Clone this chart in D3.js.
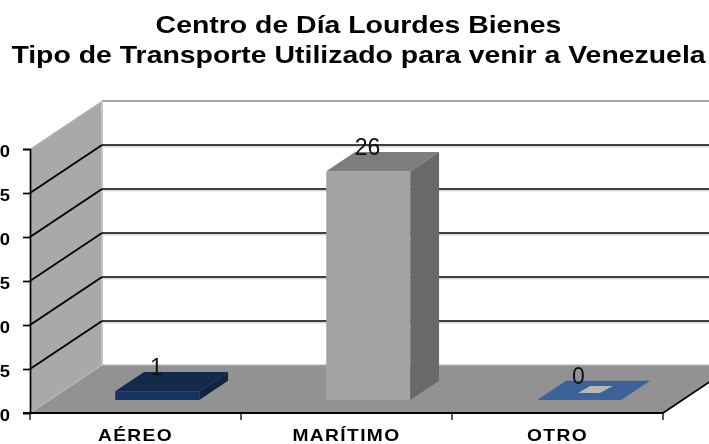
<!DOCTYPE html>
<html><head><meta charset="utf-8">
<script src="https://cdn.jsdelivr.net/npm/d3@7"></script>
<style>html,body{margin:0;padding:0;background:#fff;overflow:hidden}svg{display:block;filter:blur(.45px)}text{font-family:"Liberation Sans",Arial,sans-serif}</style>
</head><body><svg id="c" width="709" height="444"></svg>
<script>
const titleLines=["Centro de Día Lourdes Bienes","Tipo de Transporte Utilizado para venir a Venezuela"];
const categories=["AÉREO","MARÍTIMO","OTRO"];
const values=[1,26,0];
const barFronts=["#16345f","#a3a3a3","#3b6399"];
const barTops=["#132a4c","#7d7d7d","#3b6399"];
const barSides=["#102542","#696969","#3b6399"];
const yTicks=[0,5,10,15,20,25,30];

const svg=d3.select("#c");
const FONT='"Liberation Sans",Arial,sans-serif';
const x=d3.scaleBand().domain(categories).range([30,663]).paddingInner(0).paddingOuter(0);
const y=d3.scaleLinear().domain([0,30]).range([413,149]);
const dx=d3.scaleLinear().domain([0,1]).range([0,72]);
const dy=d3.scaleLinear().domain([0,1]).range([0,-48]);
const P=(px,v,d)=>[px+dx(d),y(v)+dy(d)];
const poly=(pts,fill)=>svg.append("polygon").attr("points",pts.map(p=>p.join(",")).join(" ")).attr("fill",fill);
const seg=(a,b,c,w)=>svg.append("line").attr("x1",a[0]).attr("y1",a[1]).attr("x2",b[0]).attr("y2",b[1]).attr("stroke",c).attr("stroke-width",w);

const x0=x.range()[0],x1=x.range()[1],topV=yTicks[yTicks.length-1];
// walls and floor
poly([P(x0,0,0),P(x0,topV,0),P(x0,topV,1),P(x0,0,1)],"#a9a9a9");
poly([P(x0,0,0),P(x0,0,1),P(x1,0,1),P(x1,0,0)],"#929292");
seg(P(x0,topV,1),P(x1,topV,1),"#a6a6a6",2);
seg(P(x0,topV,1),P(x0,0,1),"#c4c4c4",2);
seg(P(x0,0,1),P(x1,0,1),"#b4b4b4",1);
seg(P(x0,topV,0),P(x0,topV,1),"#c4c4c4",1);
seg(P(x0,0,0),P(x0,0,1),"#c0c0c0",1);
// gridlines
yTicks.slice(1,-1).forEach(t=>{
  seg(P(x0,t,0),P(x0,t,1),"#000",1.7);
  seg([x0+dx(1),y(t)+dy(1)+1.8],[x1+dx(1),y(t)+dy(1)+1.8],"#c8c8c8",1);
  seg(P(x0,t,1),P(x1,t,1),"#000",1.7);
});
// bars
const barW=84,dNear=0.27,dFar=0.67;
categories.forEach((c,i)=>{
  const L=x(c)+x.bandwidth()/2-barW/2+2.3, R=L+barW, v=values[i];
  if(v>0){
    poly([P(L,0,dNear),P(L,v,dNear),P(R,v,dNear),P(R,0,dNear)],barFronts[i]);
    poly([P(L,v,dNear),P(L,v,dFar),P(R,v,dFar),P(R,v,dNear)],barTops[i]);
    poly([P(R,0,dNear),P(R,v,dNear),P(R,v,dFar),P(R,0,dFar)],barSides[i]);
  } else {
    poly([P(L,0,dNear),P(L,0,dFar),P(R,0,dFar),P(R,0,dNear)],barTops[i]);
    const q=(u,d)=>P(L+u*barW,0,d);
    poly([q(.36,.417),q(.377,.5625),q(.65,.5625),q(.62,.417)],"#b8b8b8");
  }
});
// axes
const axY=d3.axisLeft(y).tickValues(yTicks).tickSize(7).tickPadding(13);
const gY=svg.append("g").attr("transform",`translate(${x0},0)`).call(axY);
gY.select(".domain").attr("stroke","#000").attr("stroke-width",1.7);
gY.selectAll("line").attr("stroke","#000").attr("stroke-width",1.7);
gY.selectAll("text").attr("font-size",16).attr("font-weight","bold").attr("fill","#000").attr("font-family",FONT)
  .attr("x",0).attr("y",2).attr("transform","translate(-20,0) scale(1.15,1)");
const axX=d3.axisBottom(x).tickSize(0).tickPadding(16);
const gX=svg.append("g").attr("transform",`translate(0,${y(0)})`).call(axX);
gX.select(".domain").attr("stroke","#000").attr("stroke-width",2).attr("d",`M${x0-7},0H${x1}`);
gX.selectAll("text").attr("font-size",16.7).attr("font-weight","bold").attr("letter-spacing","1.2px").attr("fill","#000").attr("font-family",FONT)
  .attr("transform","scale(1.15,1)");
d3.range(categories.length+1).forEach(i=>{
  const tx=x0+i*x.bandwidth();
  svg.append("line").attr("x1",tx).attr("x2",tx).attr("y1",y(0)).attr("y2",y(0)+7).attr("stroke","#000").attr("stroke-width",1.3);
});
seg(P(x1,0,0),P(x1,0,1),"#000",1.7);
// data labels
categories.forEach((c,i)=>{
  const cx=x(c)+x.bandwidth()/2;
  svg.append("text").attr("x",cx+21).attr("y",y(values[i])+dy(dFar)+3).attr("text-anchor","middle").attr("font-size",23).attr("fill","#111").text(values[i]);
});
// title
svg.selectAll(".t").data(titleLines).enter().append("text").attr("class","t")
 .attr("text-anchor","middle").attr("font-size",23).attr("font-weight","bold").attr("fill","#000")
 .attr("transform",(d,i)=>`translate(358.5,${33+i*29.5}) scale(1.236,1)`).text(d=>d);
</script></body></html>
